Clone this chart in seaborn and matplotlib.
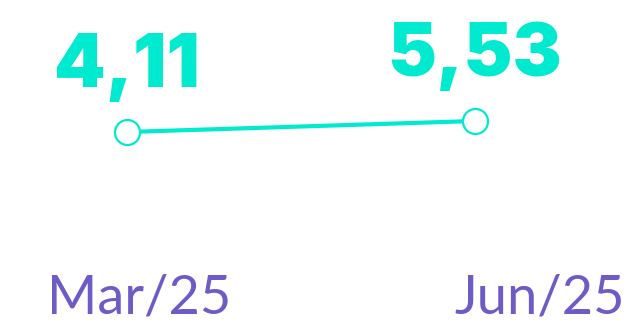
import matplotlib
matplotlib.use("Agg")
import matplotlib.pyplot as plt
import seaborn as sns
import pandas as pd

# datos
periodos = ["Mar/25", "Jun/25"]
valores = [4.11, 5.53]
etiquetas = ["4,11", "5,53"]

verde = "#00EACF"
morado = "#6E5BC6"

sns.set_theme(style="white")
plt.rcParams['font.family'] = ['Inter', 'DejaVu Sans']

df = pd.DataFrame({'x': range(len(periodos)), 'valor': valores})

fig = plt.figure(figsize=(6.36, 3.24), dpi=100)
ax = fig.add_axes([0, 0, 1, 1])

sns.lineplot(data=df, x='x', y='valor', ax=ax, color=verde, linewidth=3,
             marker='o', markersize=18, markerfacecolor='white',
             markeredgecolor=verde, markeredgewidth=1.6)

# escala: punto 0 en x=127px, punto 1 en x=475px; 4,11 en y=132px, 5,53 en y=121px
px = 348.0
ax.set_xlim(-127 / px, (636 - 127) / px)
py = (valores[1] - valores[0]) / 11.0
ax.set_ylim(valores[0] - (324 - 132) * py, valores[0] + 132 * py)

for xi, v, t in zip(df['x'], valores, etiquetas):
    ax.annotate(t, (xi, v), xytext=(0, 32.5), textcoords='offset points',
                ha='center', va='baseline', fontsize=53, fontweight='black',
                color=verde)

# etiquetas del eje
ax.text(47 / 636, 1 - 313 / 324, periodos[0], transform=ax.transAxes,
        ha='left', va='baseline', fontsize=39, color=morado,
        family=['Lato', 'DejaVu Sans'])
ax.text(625 / 636, 1 - 313 / 324, periodos[1], transform=ax.transAxes,
        ha='right', va='baseline', fontsize=39, color=morado,
        family=['Lato', 'DejaVu Sans'])

ax.axis('off')
fig.savefig('out.png', dpi=100, facecolor='white')
